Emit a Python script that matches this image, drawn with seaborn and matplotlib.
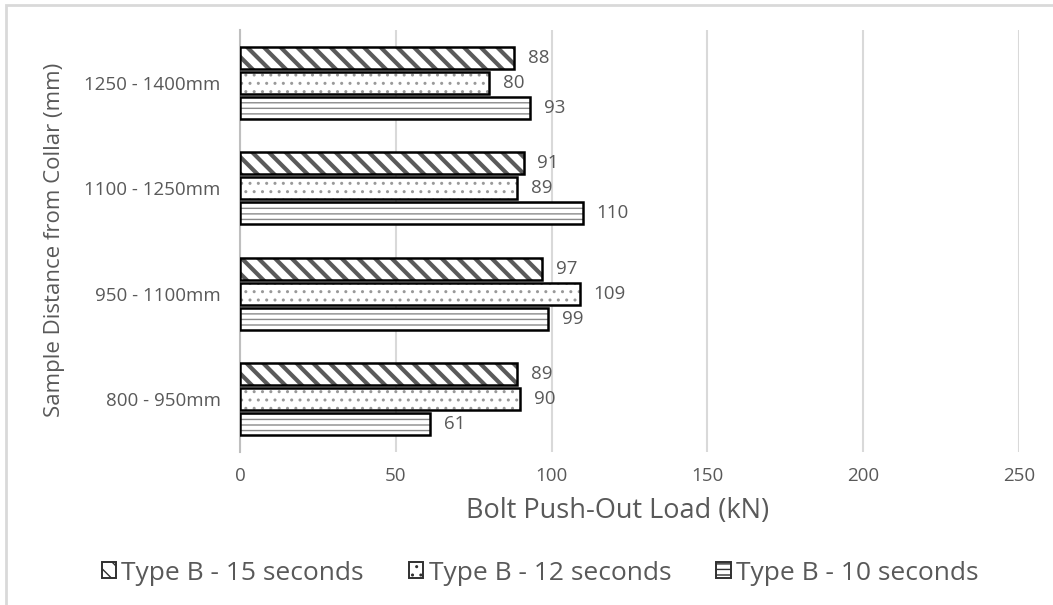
import matplotlib
matplotlib.use("Agg")
import matplotlib.pyplot as plt
import seaborn as sns
import pandas as pd
from matplotlib.patches import Patch, Rectangle

# Data
categories = ["1250 - 1400mm", "1100 - 1250mm", "950 - 1100mm", "800 - 950mm"]
series = ["Type B - 15 seconds", "Type B - 12 seconds", "Type B - 10 seconds"]
load_15s = [88, 91, 97, 89]
load_12s = [80, 89, 109, 90]
load_10s = [93, 110, 99, 61]
x_ticks = [0, 50, 100, 150, 200, 250]

TEXT = "#595959"
GRID = "#d9d9d9"

sns.set_theme(style="white")
plt.rcParams["font.family"] = ["Open Sans", "DejaVu Sans"]
plt.rcParams["hatch.linewidth"] = 1.0

rows = []
for name, vals in zip(series, [load_15s, load_12s, load_10s]):
    for cat, v in zip(categories, vals):
        rows.append({"category": cat, "series": name, "load": v})
df = pd.DataFrame(rows)

fig = plt.figure(figsize=(10.53, 6.05), dpi=100)
ax = fig.add_axes([240 / 1053, 1 - 452 / 605, 779 / 1053, 422 / 605])

sns.barplot(data=df, y="category", x="load", hue="series", order=categories,
            hue_order=series, orient="h", palette=["white"] * 3,
            edgecolor="#808080", linewidth=0, width=0.71, gap=0.11,
            ax=ax, legend=False, zorder=2)

hatches = ["\\\\", "..", "---"]
hatch_colors = ["#5a5a5a", "#999999", "#8a8a8a"]
hatch_lw = [3.0, 1.0, 1.0]
for cont, h, hc, hl in zip(ax.containers, hatches, hatch_colors, hatch_lw):
    for p in cont.patches:
        p.set_hatch(h)
        p.set_edgecolor(hc)
        if hasattr(p, "set_hatch_linewidth"):
            p.set_hatch_linewidth(hl)
        else:
            p._hatch_linewidth = hl
        # black outline drawn over the hatched fill
        bb = p.get_bbox()
        ax.add_patch(Rectangle((bb.x0, bb.y0), bb.width, bb.height,
                               fill=False, edgecolor="black", linewidth=1.8,
                               zorder=3))
    ax.bar_label(cont, padding=10, color=TEXT, fontsize=13.5)

ax.set_xlim(0, 250)
ax.set_ylim(3.5, -0.5)
ax.set_xticks(x_ticks)
ax.xaxis.grid(True, color=GRID, linewidth=1.5, zorder=0)
ax.set_axisbelow(True)
for s in ["top", "right", "bottom"]:
    ax.spines[s].set_visible(False)
ax.spines["left"].set_color("#bfbfbf")
ax.spines["left"].set_linewidth(1.5)
ax.tick_params(axis="both", length=0, colors=TEXT, labelsize=13.5)
ax.tick_params(axis="y", pad=14)
ax.tick_params(axis="x", pad=11)

ax.set_xlabel("Bolt Push-Out Load (kN)", color=TEXT, fontsize=19.5)
ax.set_ylabel("Sample Distance from Collar (mm)", color=TEXT, fontsize=16)
ax.xaxis.set_label_coords((618 - 240) / 779, -(511 - 452) / 422)
ax.yaxis.set_label_coords(-(240 - 55) / 779, (452 - 240) / 422)
ax.xaxis.label.set_va("center")
ax.yaxis.label.set_va("center")

handles = [Patch(facecolor="white", edgecolor="#303030", hatch=h, linewidth=1.4)
           for h in hatches]
fig.legend(handles, series, loc="center", bbox_to_anchor=(540 / 1053, 1 - 573 / 605),
           ncol=3, frameon=False, fontsize=19, labelcolor=TEXT,
           handlelength=0.55, handleheight=0.55, handletextpad=0.2,
           columnspacing=1.7)

# light frame around the chart area
fig.patches.append(Rectangle((6 / 1053, -0.1), 1.2, 1 - 5 / 605 + 0.1,
                             transform=fig.transFigure, fill=False,
                             edgecolor=GRID, linewidth=2))

fig.savefig("out.png", dpi=100, facecolor="white")
